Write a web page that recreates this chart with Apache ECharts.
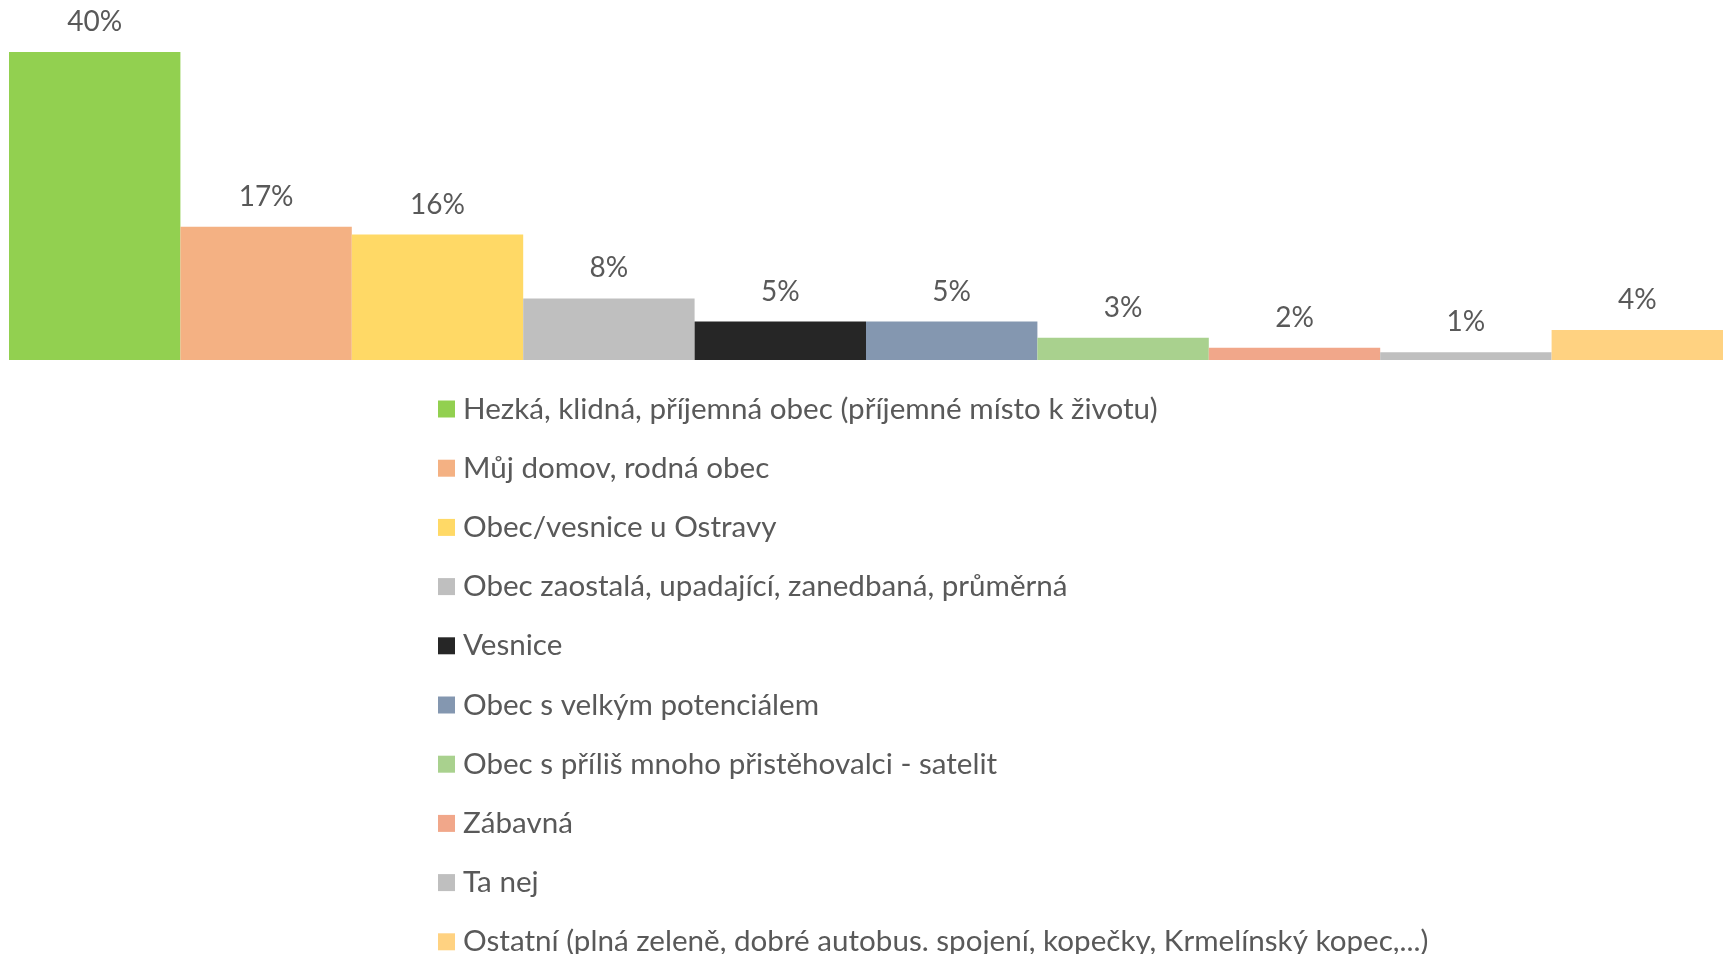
<!DOCTYPE html>
<html>
<head>
<meta charset="utf-8">
<script src="https://cdn.jsdelivr.net/npm/echarts@6/dist/echarts.min.js"></script>
<style>
  html, body { margin: 0; padding: 0; background: #fff; }
  #chart { width: 1723px; height: 954px; }
</style>
</head>
<body>
<div id="chart"></div>
<script>
// odpovědi (kategorie) a jejich podíly v %
const categories = [
  'Hezká, klidná, příjemná obec (příjemné místo k životu)',
  'Můj domov, rodná obec',
  'Obec/vesnice u Ostravy',
  'Obec zaostalá, upadající, zanedbaná, průměrná',
  'Vesnice',
  'Obec s velkým potenciálem',
  'Obec s příliš mnoho přistěhovalci - satelit',
  'Zábavná',
  'Ta nej',
  'Ostatní (plná zeleně, dobré autobus. spojení, kopečky, Krmelínský kopec,...)'
]
const values = [40.0, 17.3, 16.3, 8.0, 5.0, 5.0, 2.9, 1.6, 1.0, 3.9]

const colors = ['#92D050', '#F4B183', '#FFD966', '#BFBFBF', '#262626',
  '#8497B0', '#A9D18E', '#F1A78A', '#BFBFBF', '#FFD281']

const font = 'Lato, "Noto Sans", sans-serif'

const chart = echarts.init(document.getElementById('chart'))

const series = categories.map((name, i) => ({
  name: name,
  type: 'bar',
  stack: 'all',
  barWidth: '100%',
  itemStyle: { color: colors[i] },
  label: {
    show: true,
    position: 'top',
    distance: 16,
    color: '#595959',
    fontSize: 28,
    fontFamily: font,
    formatter: p => Math.round(p.value) + '%'
  },
  data: values.map((v, j) => (j === i ? v : '-'))
}))

chart.setOption({
  animation: false,
  color: colors,
  grid: { left: 9, right: 0, top: 52, bottom: 594 },
  xAxis: {
    type: 'category',
    data: categories,
    show: false
  },
  yAxis: {
    type: 'value',
    min: 0,
    max: 40,
    show: false
  },
  legend: {
    orient: 'vertical',
    left: 433,
    top: 389,
    height: 800,
    itemWidth: 17,
    itemHeight: 17,
    itemGap: 29.2,
    icon: 'rect',
    textStyle: {
      color: '#595959',
      fontSize: 29.6,
      lineHeight: 30,
      fontFamily: font,
      padding: [0, 0, 0, 3]
    },
    data: categories
  },
  series: series
})
</script>
</body>
</html>
